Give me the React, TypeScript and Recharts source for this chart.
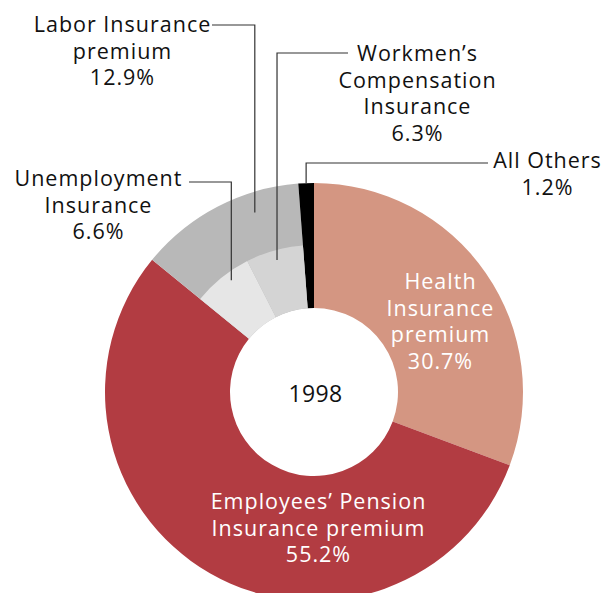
import React from 'react';
import { PieChart, Pie, Cell } from 'recharts';

const outerNames = ['Health Insurance premium', "Employees' Pension Insurance premium", 'Labor Insurance premium', 'All Others'];
const outerValues = [30.7, 55.2, 12.9, 1.2];
const outerColors = ['#d49682', '#b23c42', '#b8b8b8', '#000000'];

const innerNames = ['Unemployment Insurance', "Workmen's Compensation Insurance"];
const innerValues = [6.6, 6.3];
const innerColors = ['#e6e6e6', '#d4d4d4'];

const yearLabel = '1998';

const healthLines = ['Health', 'Insurance', 'premium', '30.7%'];
const pensionLines = ['Employees\u2019 Pension', 'Insurance premium', '55.2%'];
const laborLines = ['Labor Insurance', 'premium', '12.9%'];
const unempLines = ['Unemployment', 'Insurance', '6.6%'];
const workLines = ['Workmen\u2019s', 'Compensation', 'Insurance', '6.3%'];
const othersLines = ['All Others', '1.2%'];

const W = 603;
const H = 593;
const CX = 314;
const CY = 392;
const R_IN = 84;
const R_MID = 147;
const R_OUT = 209;
const FONT = '"Open Sans", "Noto Sans", sans-serif';
const FS = 21.5;
const LS = 1.0;
const LH = 26.5;
const FW = 500;

const outerData = outerNames.map((n, i) => ({ name: n, value: outerValues[i], fill: outerColors[i] }));
const beforeInner = outerValues[0] + outerValues[1];
const afterInner = outerValues[3];
const innerData = [
  { name: 'before', value: beforeInner, fill: 'none' },
  ...innerNames.map((n, i) => ({ name: n, value: innerValues[i], fill: innerColors[i] })),
  { name: 'after', value: afterInner, fill: 'none' },
];

const total = outerValues.reduce((a, b) => a + b, 0);
// clockwise from top, degrees
const angOf = (pct: number) => (pct / total) * 360;
const polar = (deg: number, r: number) => {
  const rad = (deg * Math.PI) / 180;
  return { x: CX + r * Math.sin(rad), y: CY - r * Math.cos(rad) };
};

const Multi = ({ x, y, lines, fill }: { x: number; y: number; lines: string[]; fill: string }) => (
  <text x={x} y={y} textAnchor="middle" fontFamily={FONT} fontSize={FS} fontWeight={FW} letterSpacing={LS} fill={fill}>
    {lines.map((l, i) => (
      <tspan key={i} x={x + LS / 2} dy={i === 0 ? 0 : LH}>
        {l}
      </tspan>
    ))}
  </text>
);

const Annotations = () => {
  const laborStart = outerValues[0] + outerValues[1];
  const laborAnchor = polar(angOf(laborStart + outerValues[2] * 0.7), 189);
  const unempAnchor = polar(angOf(laborStart + innerValues[0] * 0.6), 139);
  const workAnchor = polar(angOf(laborStart + innerValues[0] + innerValues[1] * 0.5), 137);
  const othersAnchor = polar(angOf(total - outerValues[3] / 2), R_OUT);
  const ls = { stroke: '#333', strokeWidth: 1.2, fill: 'none' } as const;
  return (
    <svg width={W} height={H} style={{ position: 'absolute', left: 0, top: 0, pointerEvents: 'none' }}>
      <polyline points={`212,25 ${laborAnchor.x},25 ${laborAnchor.x},${laborAnchor.y}`} {...ls} />
      <polyline points={`189,182 ${unempAnchor.x},182 ${unempAnchor.x},${unempAnchor.y}`} {...ls} />
      <polyline points={`348,53 ${workAnchor.x},53 ${workAnchor.x},${workAnchor.y}`} {...ls} />
      <polyline points={`488,163 ${othersAnchor.x},163 ${othersAnchor.x},${othersAnchor.y}`} {...ls} />
      <Multi x={122} y={32} lines={laborLines} fill="#111" />
      <Multi x={98} y={186} lines={unempLines} fill="#111" />
      <Multi x={417} y={61} lines={workLines} fill="#111" />
      <Multi x={547} y={168} lines={othersLines} fill="#111" />
      <Multi x={440} y={289} lines={healthLines} fill="#ffffff" />
      <Multi x={318} y={509} lines={pensionLines} fill="#ffffff" />
      <text x={CX + 1.5} y={CY + 10} textAnchor="middle" fontFamily={FONT} fontSize={23} fontWeight={FW} letterSpacing={0.4} fill="#111">
        {yearLabel}
      </text>
    </svg>
  );
};

export default function App() {
  return (
    <div style={{ position: 'absolute', left: 0, top: 0, width: W, height: H, background: '#fff', overflow: 'hidden' }}>
      <PieChart width={W} height={H} margin={{ top: 0, right: 0, bottom: 0, left: 0 }}>
        <Pie
          data={outerData}
          dataKey="value"
          nameKey="name"
          cx={CX}
          cy={CY}
          innerRadius={R_IN}
          outerRadius={R_OUT}
          startAngle={90}
          endAngle={-270}
          stroke="none"
          isAnimationActive={false}
        >
          {outerData.map((d, i) => (
            <Cell key={i} fill={d.fill} stroke="none" />
          ))}
        </Pie>
        <Pie
          data={innerData}
          dataKey="value"
          nameKey="name"
          cx={CX}
          cy={CY}
          innerRadius={R_IN}
          outerRadius={R_MID}
          startAngle={90}
          endAngle={-270}
          stroke="none"
          isAnimationActive={false}
        >
          {innerData.map((d, i) => (
            <Cell key={i} fill={d.fill} stroke="none" />
          ))}
        </Pie>
      </PieChart>
      <Annotations />
    </div>
  );
}
